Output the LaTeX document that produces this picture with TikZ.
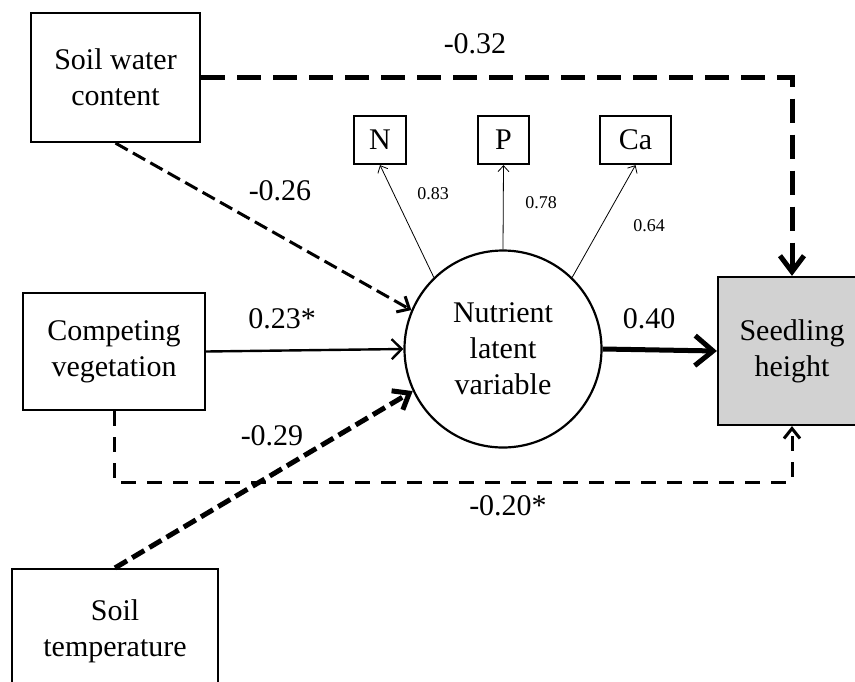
\documentclass[tikz,border=0pt]{standalone}
\usepackage{fontspec}
\setmainfont{Liberation Serif}
\usetikzlibrary{arrows.meta}

\begin{document}
\begin{tikzpicture}[x=1pt,y=-1pt]
\useasboundingbox (0,0) rectangle (855,681);
\tikzstyle{every node}=[font=\fontsize{30}{36}\selectfont];
\tikzstyle{obs}=[draw,line width=2.2pt,shape=rectangle,align=center,inner sep=0pt];
\tikzstyle{small}=[font=\fontsize{18}{22}\selectfont,anchor=base];
\node[obs,minimum width=169pt,minimum height=129pt] (swc) at (115.5,77.5) {Soil water\\content};
\node[obs,minimum width=182pt,minimum height=117pt] (cv) at (114,351.5) {Competing\\vegetation};
\node[obs,minimum width=206pt,minimum height=124pt] (st) at (115,631) {Soil\\temperature};
\node[obs,fill=gray!35,minimum width=148pt,minimum height=148pt] (sh) at (792,351) {Seedling\\height};
\node[draw,circle,line width=2.2pt,minimum size=197pt,align=center,inner sep=0pt] (nlv) at (503,349) {Nutrient\\latent\\variable};
\node[obs,minimum width=52pt,minimum height=48pt] (n) at (380,140) {N};
\node[obs,minimum width=51pt,minimum height=48pt] (p) at (503.5,140) {P};
\node[obs,minimum width=71pt,minimum height=48pt] (ca) at (635.5,140) {Ca};
% paths into the latent variable
\draw[line width=3pt,dash pattern=on 14pt off 6pt,-{Straight Barb[length=10pt,width=18pt]}] (swc.south) -- (nlv.157);
\draw[line width=2.4pt,-{Straight Barb[length=10pt,width=20pt]}] (cv.east) -- (nlv.west);
\draw[line width=5pt,dash pattern=on 14pt off 6pt,-{Straight Barb[length=14pt,width=22pt]}] (st.north) -- (nlv.205);
% paths into seedling height
\draw[line width=5pt,-{Straight Barb[length=18pt,width=30pt]}] (nlv.east) -- (sh.west);
\draw[line width=5pt,dash pattern=on 24pt off 12pt,-{Straight Barb[length=16pt,width=24pt]}] (swc.east) -| (sh.north);
\coordinate (low) at (0,482);
\draw[line width=3pt,dash pattern=on 15pt off 11pt,-{Straight Barb[length=10pt,width=16pt]}] (cv.south) -- (cv.south |- low) -- (sh.south |- low) -- (sh.south);
% loadings
\draw[line width=0.8pt,-{Straight Barb[length=6pt,width=11pt]}] (nlv.134) -- (n.south);
\draw[line width=0.8pt,-{Straight Barb[length=6pt,width=11pt]}] (nlv.north) -- (p.south);
\draw[line width=0.8pt,-{Straight Barb[length=6pt,width=11pt]}] (nlv.46) -- (ca.south);
% coefficients
\node[anchor=base] (c1) at (475,53) {-0.32};
\node[anchor=base] (c2) at (280,200) {-0.26};
\node[anchor=base] (c3) at (282,328) {0.23*};
\node[anchor=base] (c4) at (272,445) {-0.29};
\node[anchor=base] (c5) at (649,328) {0.40};
\node[anchor=base] (c6) at (508,515) {-0.20*};
\node[small] (c7) at (433,199) {0.83};
\node[small] (c8) at (541,208) {0.78};
\node[small] (c9) at (649,231) {0.64};
\end{tikzpicture}
\end{document}
